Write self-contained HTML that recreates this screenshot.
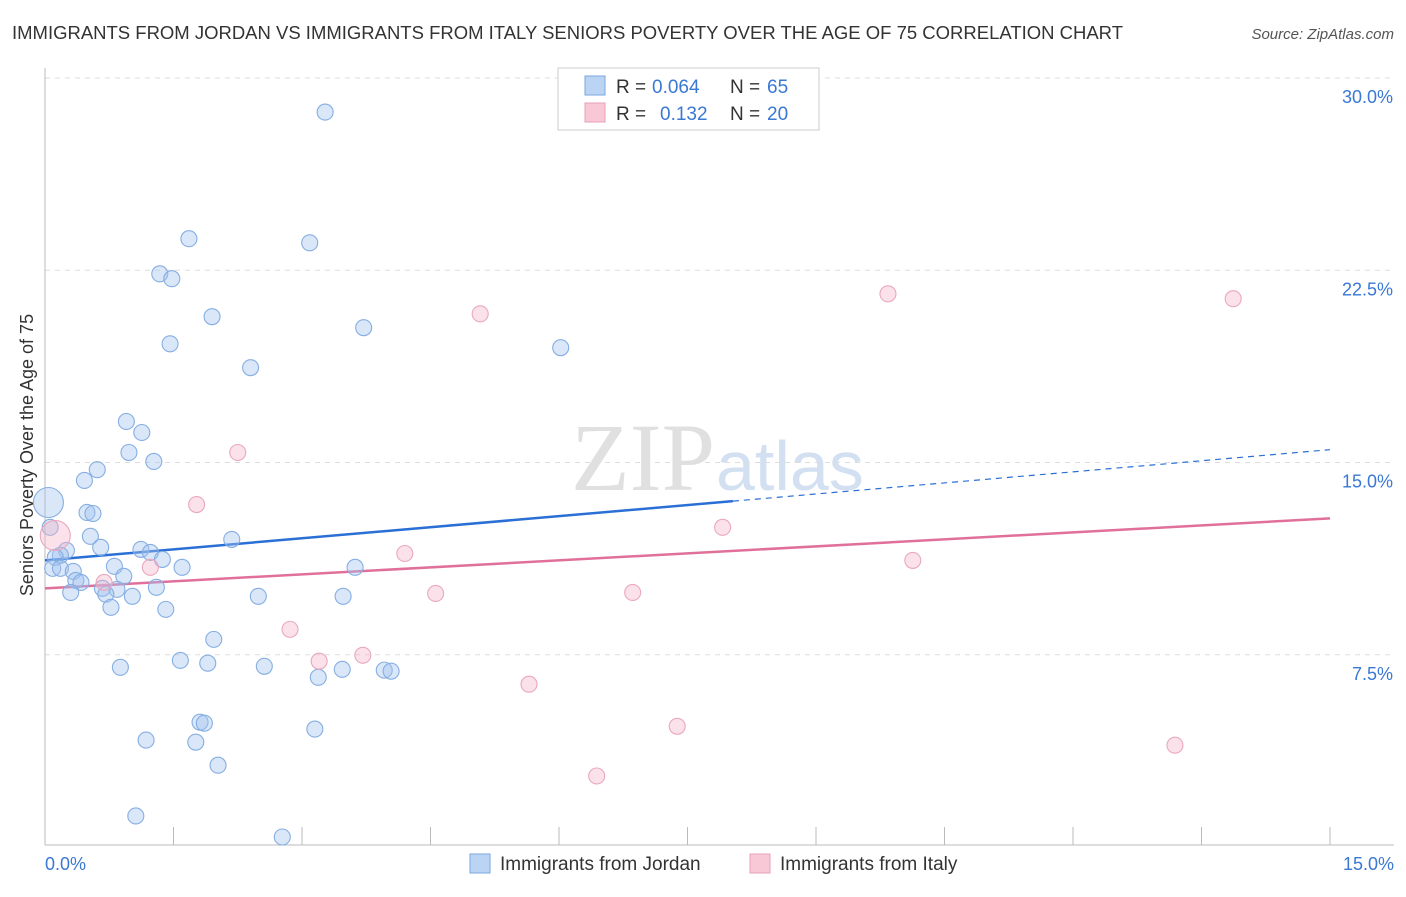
<!DOCTYPE html>
<html><head><meta charset="utf-8"><style>
body{margin:0;background:#fff;font-family:"Liberation Sans",sans-serif;}
#wrap{position:relative;width:1406px;height:892px;}
</style></head><body>
<div id="wrap">
<svg id="svg" width="1406" height="892" xmlns="http://www.w3.org/2000/svg">
<text x="12" y="39" font-size="18" fill="#333" textLength="1111" lengthAdjust="spacingAndGlyphs">IMMIGRANTS FROM JORDAN VS IMMIGRANTS FROM ITALY SENIORS POVERTY OVER THE AGE OF 75 CORRELATION CHART</text>
<text x="1394" y="39" font-size="15" fill="#555" text-anchor="end" font-style="italic">Source: ZipAtlas.com</text>
<text x="715" y="490" font-size="96" fill="#e0e0e0" text-anchor="end" font-family="Liberation Serif">ZIP</text>
<text x="716" y="490" font-size="70" fill="#d3e0f2">atlas</text>
<text x="33" y="455" font-size="18" fill="#333" text-anchor="middle" transform="rotate(-90 33 455)">Seniors Poverty Over the Age of 75</text>
<g id="grid"></g><g id="ticks"></g><g id="lines"></g><g id="pts"></g>
<g>
<rect x="558" y="68" width="261" height="62" fill="#fff" stroke="#ccc"/>
<rect x="585" y="76" width="20" height="19" fill="#bcd4f4" stroke="#7aa7e0"/>
<rect x="585" y="103" width="20" height="19" fill="#f9c8d6" stroke="#e8a0b8"/>
<text x="616" y="93" font-size="19" fill="#333">R =</text>
<text x="652" y="93" font-size="19" fill="#3a78d4">0.064</text>
<text x="730" y="93" font-size="19" fill="#333">N =</text>
<text x="767" y="93" font-size="19" fill="#3a78d4">65</text>
<text x="616" y="120" font-size="19" fill="#333">R =</text>
<text x="660" y="120" font-size="19" fill="#3a78d4">0.132</text>
<text x="730" y="120" font-size="19" fill="#333">N =</text>
<text x="767" y="120" font-size="19" fill="#3a78d4">20</text>
</g>
<g>
<rect x="470" y="854" width="20" height="19" fill="#bcd4f4" stroke="#7aa7e0"/>
<text x="500" y="870" font-size="19" fill="#333">Immigrants from Jordan</text>
<rect x="750" y="854" width="20" height="19" fill="#f9c8d6" stroke="#e8a0b8"/>
<text x="780" y="870" font-size="19" fill="#333">Immigrants from Italy</text>
</g>
</svg>
</div>
<script>
const yTicks=[7.5,15,22.5,30];
const yTickLabels=["7.5%","15.0%","22.5%","30.0%"];
const xTicks=[0,1.5,3,4.5,6,7.5,9,10.5,12,13.5,15];
const xTickLabels=["0.0%","15.0%"];
const jordanX=[3.27,1.68,3.09,1.34,1.48,1.95,3.72,1.46,6.02,2.40,0.95,1.13,0.98,1.27,0.61,0.46,0.49,0.56,0.53,2.18,0.04,0.06,0.25,0.18,0.12,1.12,1.23,1.37,0.65,1.60,0.81,3.62,0.09,0.18,0.33,0.36,0.42,0.92,0.67,0.84,0.71,1.02,1.30,0.30,2.49,3.48,0.77,1.41,1.97,1.58,1.90,2.56,0.88,3.47,3.19,3.96,4.04,1.81,1.86,3.15,1.18,1.76,2.02,1.06,2.77];
const jordanY=[28.67,23.73,23.57,22.36,22.17,20.69,20.26,19.63,19.48,18.70,16.60,16.17,15.39,15.04,14.72,14.30,13.05,13.01,12.12,12.00,13.44,12.47,11.57,11.38,11.30,11.61,11.49,11.22,11.69,10.91,10.95,10.91,10.87,10.87,10.75,10.40,10.32,10.56,10.09,10.05,9.86,9.78,10.13,9.93,9.78,9.78,9.35,9.27,8.10,7.28,7.17,7.05,7.01,6.93,6.62,6.90,6.86,4.87,4.83,4.60,4.17,4.09,3.19,1.21,0.39];
const jordanLarge=[20];
const italyX=[5.08,9.84,13.87,2.25,1.77,7.91,4.20,10.13,1.23,0.69,4.56,6.86,2.86,3.71,3.20,5.65,7.38,13.19,6.44,0.12];
const italyY=[20.80,21.58,21.39,15.39,13.36,12.47,11.45,11.18,10.91,10.32,9.89,9.93,8.49,7.48,7.25,6.35,4.71,3.97,2.77,12.15];
const italyLarge=[19];
const jordanTrend=[11.18,15.50];
const jordanSolidEnd=8.03;
const italyTrend=[10.09,12.82];

const NS="http://www.w3.org/2000/svg";
const X0=45,X1=1330,Y0=847,Y30=78;
const sx=v=>X0+(X1-X0)*v/15;
const sy=v=>Y0-(Y0-Y30)*v/30;
function mk(tag,attrs,parent){const e=document.createElementNS(NS,tag);for(const k in attrs)e.setAttribute(k,attrs[k]);document.getElementById(parent).appendChild(e);return e;}

yTicks.forEach((t,i)=>{
 const g=mk('line',{x1:X0,x2:1394,y1:sy(t),y2:sy(t),stroke:'#ddd','stroke-dasharray':'5,5'},'grid');
 
 
 const tx=mk('text',{x:1393,y:sy(t)+25,'font-size':18,fill:'#3a78d4','text-anchor':'end'},'ticks');
 tx.textContent=yTickLabels[i];
 
 
});
const ax=mk('line',{x1:X0,x2:X0,y1:68,y2:Y0-2,stroke:'#bbb'},'grid');


const bx=mk('line',{x1:X0,x2:1394,y1:Y0-2,y2:Y0-2,stroke:'#bbb'},'grid');


xTicks.forEach(t=>{
 const l=mk('line',{x1:sx(t),x2:sx(t),y1:827,y2:845,stroke:'#bbb'},'ticks');
 
 
});
const xl0=mk('text',{x:45,y:870,'font-size':18,fill:'#3a78d4'},'ticks');
xl0.textContent=xTickLabels[0];


const xl1=mk('text',{x:1394,y:870,'font-size':18,fill:'#3a78d4','text-anchor':'end'},'ticks');
xl1.textContent=xTickLabels[1];



function pts(xs,ys,large,fill,stroke,name){
 xs.forEach((x,i)=>{
  const c=mk('circle',{cx:sx(x),cy:sy(ys[i]),r:large.includes(i)?15:8,fill:fill,stroke:stroke,'stroke-width':1.1},'pts');
  
  
 });
}
pts(jordanX,jordanY,jordanLarge,'rgba(160,196,240,0.4)','#86aee2','jordan-point');
pts(italyX,italyY,italyLarge,'rgba(245,180,200,0.4)','#eaa8be','italy-point');

const ty=(tr,x)=>tr[0]+(tr[1]-tr[0])*x/15;
const l1=mk('line',{x1:sx(0),y1:sy(ty(jordanTrend,0)),x2:sx(jordanSolidEnd),y2:sy(ty(jordanTrend,jordanSolidEnd)),stroke:'#2a6fd6','stroke-width':2.5},'lines');


const l2=mk('line',{x1:sx(jordanSolidEnd),y1:sy(ty(jordanTrend,jordanSolidEnd)),x2:sx(15),y2:sy(jordanTrend[1]),stroke:'#2a6fd6','stroke-width':1.2,'stroke-dasharray':'6,5'},'lines');


const l3=mk('line',{x1:sx(0),y1:sy(italyTrend[0]),x2:sx(15),y2:sy(italyTrend[1]),stroke:'#e0709a','stroke-width':2.5},'lines');


</script>
</body></html>
